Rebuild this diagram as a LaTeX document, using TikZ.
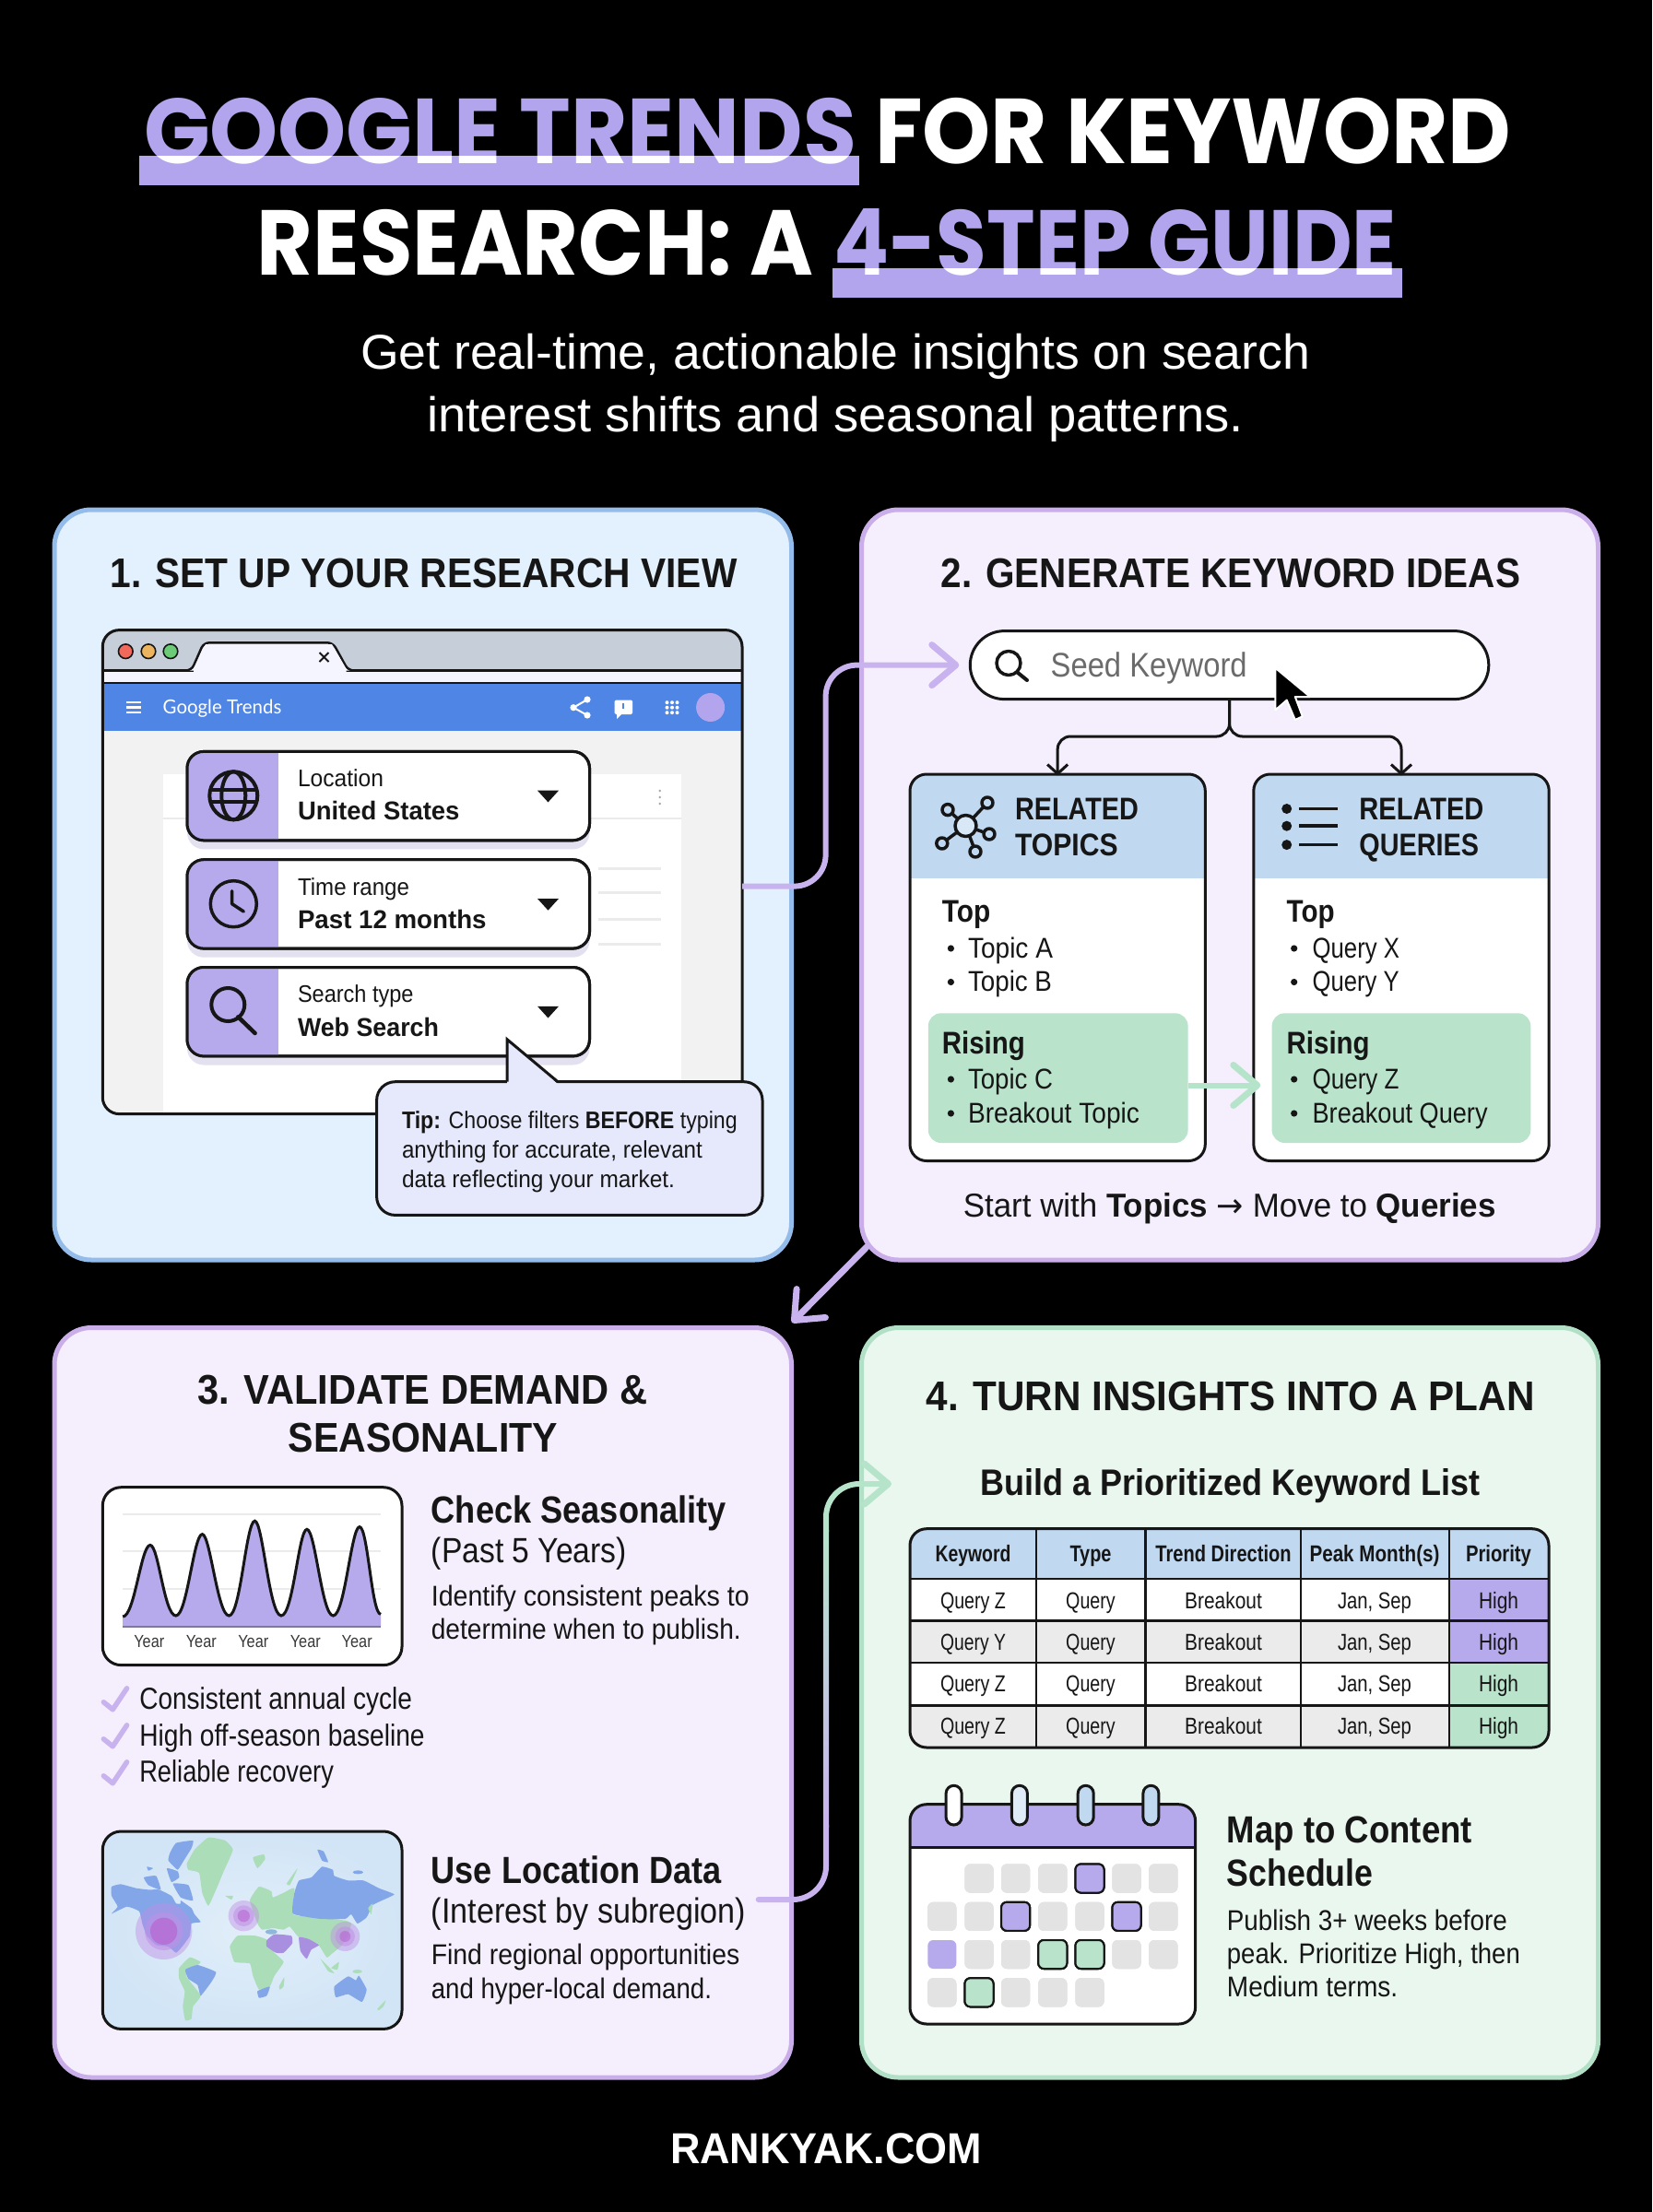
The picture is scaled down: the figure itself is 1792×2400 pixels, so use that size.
\documentclass[tikz,border=0pt]{standalone}
\usepackage{fontspec}
\setmainfont{Liberation Sans}
\newfontfamily\titlef{Poppins}
\newfontfamily\gtf{Lato}
\newfontfamily\arrf{DejaVu Sans}
\usetikzlibrary{arrows.meta}
\definecolor{ink}{HTML}{161616}
\definecolor{hl}{HTML}{B2A5EE}
\definecolor{pviolet}{HTML}{B6A9EC}
\definecolor{flowp}{HTML}{C9B3EE}
\definecolor{flowg}{HTML}{B6E4CA}
\definecolor{p1f}{HTML}{E3F0FD}\definecolor{p1s}{HTML}{94BCEA}
\definecolor{p2f}{HTML}{F5EEFC}\definecolor{p2s}{HTML}{C9AEEA}
\definecolor{p4f}{HTML}{EAF7EF}\definecolor{p4s}{HTML}{B2E0C6}
\definecolor{barblue}{HTML}{4F86E6}
\definecolor{chrome}{HTML}{C6CFD9}
\definecolor{hdrblue}{HTML}{C0D9F1}
\definecolor{risegreen}{HTML}{B9E4CB}
\definecolor{tipfill}{HTML}{E6E9FB}
\definecolor{cellgray}{HTML}{E3E3E3}
\definecolor{rowgray}{HTML}{EBEBEB}
\definecolor{mapbg}{HTML}{D2E5F6}
\definecolor{mapblue}{HTML}{82A6E8}
\definecolor{mapgreen}{HTML}{ABDDB8}
\definecolor{mappurple}{HTML}{A88FE0}
\definecolor{spota}{HTML}{C08FE6}
\definecolor{spotb}{HTML}{B868D2}
\definecolor{lred}{HTML}{F0695A}
\definecolor{lyel}{HTML}{EDB45F}
\definecolor{lgrn}{HTML}{6CCB77}
\newcommand\fs[1]{\fontsize{#1}{#1}\selectfont}
\newcommand\tw[2]{\resizebox{#1pt}{\height}{#2}}
\newcommand\bx[6]{\node[#2,minimum width={(#5)-(#3)},minimum height={(#6)-(#4)}] (#1) at ({((#3)+(#5))/2},{((#4)+(#6))/2}) {};}
\tikzset{
 tl/.style={anchor=base west,inner sep=0pt,outer sep=0pt,text=ink},
 tc/.style={anchor=base,inner sep=0pt,outer sep=0pt,text=ink},
 panel/.style={draw,rounded corners=40pt,line width=5pt,inner sep=0pt,outer sep=0pt},
 card/.style={draw=ink,fill=white,rounded corners=18pt,line width=3pt,inner sep=0pt,outer sep=0pt},
 outline/.style={draw=ink,rounded corners=18pt,line width=3pt,inner sep=0pt,outer sep=0pt},
 rise/.style={fill=risegreen,rounded corners=14pt,inner sep=0pt,outer sep=0pt},
 flowline/.style={line width=6pt,line cap=round,color=flowp},
 barb/.style={-{Straight Barb[length=26pt,width=44pt,line width=7pt,round]}},
 icon/.style={draw=ink,line width=3.5pt,line cap=round,line join=round},
 calcell/.style={fill=cellgray,rounded corners=6pt,inner sep=0pt,outer sep=0pt,minimum size=31pt},
 calp/.style={calcell,fill=pviolet,draw=ink,line width=2pt},
 calg/.style={calcell,fill=risegreen,draw=ink,line width=2pt},
 ringbox/.style={draw=ink,line width=3pt,rounded corners=8.5pt,inner sep=0pt,outer sep=0pt},
 check/.style={draw=flowp,line width=5.5pt,line cap=round,line join=round},
 land/.style={smooth cycle,tension=.25}
}
\begin{document}
\begin{tikzpicture}[x=1pt,y=-1pt]
\useasboundingbox (0,0) rectangle (1792,2400);
\fill[black] (0,0) rectangle (1792,2400);

% Title
\fill[hl] (151,169) rectangle (932,201);
\fill[hl] (903,291) rectangle (1521,323);
\node[tl,text=white,font=\titlef\fs{100}\bfseries] (t1) at (156,177.7) {\tw{1483}{GOOGLE TRENDS FOR KEYWORD}};
\node[tl,text=white,font=\titlef\fs{100}\bfseries] (t2a) at (278.6,298.7) {\tw{604}{RESEARCH: A}};
\node[tl,text=white,font=\titlef\fs{100}\bfseries] (t2b) at (904,298.7) {\tw{611}{4-STEP GUIDE}};
\begin{scope}[blend mode=multiply]
\fill[hl] (140,90) rectangle (936,169);
\fill[hl] (892,212) rectangle (1530,291);
\end{scope}
\node[tl,text=white,font=\fs{53}] (s1) at (391,400) {\tw{1030}{Get real-time, actionable insights on search}};
\node[tl,text=white,font=\fs{53}] (s2) at (463,468) {\tw{886}{interest shifts and seasonal patterns.}};

% Panels
\bx{p1}{panel,draw=p1s,fill=p1f}{59}{553}{858.5}{1367}
\bx{p2}{panel,draw=p2s,fill=p2f}{934.5}{553}{1733.5}{1367}
\bx{p3}{panel,draw=p2s,fill=p2f}{59}{1440.5}{858.5}{2254}
\bx{p4}{panel,draw=p4s,fill=p4f}{934.5}{1440.5}{1733.5}{2254}

% ---------- Panel 1
\node[tl,font=\fs{45}\bfseries] (h1) at (119.5,637.5) {\tw{680}{1. SET UP YOUR RESEARCH VIEW}};
\begin{scope}
\clip[rounded corners=18pt] (111.3,683.6) rectangle (805,1208.6);
\fill[white!95!black] (111.3,683.6) rectangle (805,1208.6);
\fill[chrome] (111.3,683.6) rectangle (805,727.5);
\fill[white!96!blue] (111.3,727.5) rectangle (805,741);
\fill[barblue] (111.3,741) rectangle (805,793);
\fill[white] (177,840) rectangle (739,1208.6);
\draw[rowgray,line width=2pt] (177,888) -- (739,888);
\foreach \yy in {942,968.6,997,1024} \draw[rowgray,line width=3pt] (649,\yy) -- (717.4,\yy);
\draw[ink,line width=2.5pt] (111.3,727.5) -- (805,727.5);
\draw[ink,line width=2.5pt] (111.3,741) -- (805,741);
\end{scope}
\fill[gray!70] (715.7,858) circle (1.4) (715.7,865) circle (1.4) (715.7,872) circle (1.4);
\draw[ink,line width=2.5pt,fill=white!96!blue,rounded corners=6pt,line join=round] (204,727.5) -- (207.7,727.5) -- (221,697.3) -- (361,697.3) -- (377.7,727.5) -- (381,727.5);
\fill[white!96!blue] (210,725.5) -- (223,699) -- (360,699) -- (375.5,725.5) -- (375.5,729) -- (210,729) -- cycle;
\draw[ink,line width=2pt] (346.5,708) -- (356.5,718) (356.5,708) -- (346.5,718);
\filldraw[draw=ink,line width=1.6pt,fill=lred] (136.3,706.7) circle (7.8);
\filldraw[draw=ink,line width=1.6pt,fill=lyel] (161,706.7) circle (7.8);
\filldraw[draw=ink,line width=1.6pt,fill=lgrn] (185,706.7) circle (7.8);
\bx{browser}{outline}{111.3}{683.6}{805}{1208.6}
\draw[white,line width=2.2pt] (137,762) -- (152.5,762) (137,767.5) -- (152.5,767.5) (137,773) -- (152.5,773);
\node[tl,text=white,font=\gtf\fs{21}] (gt) at (176.7,774.6) {\tw{128.6}{Google Trends}};
\draw[white,line width=2pt] (637,759) -- (622,767.7) -- (637,776);
\fill[white] (637,759) circle (3.6) (622,767.7) circle (3.6) (637,776) circle (3.6);
\fill[white,rounded corners=1.5pt] (666.5,759.5) rectangle (686,775);
\fill[white] (669,773) -- (669,780) -- (676,773) -- cycle;
\draw[barblue,line width=1.6pt] (676.2,762.5) -- (676.2,769);
\foreach \gi in {-5.5,0,5.5} \foreach \gj in {-5.5,0,5.5} \fill[white] (729+\gi,767.7+\gj) circle (2);
\fill[hl] (770.6,767.5) circle (15.5);
% filter boxes
\foreach \by/\nm in {815.4/a,932.7/b,1049.5/c}{
 \fill[black!20!hl!25!white,rounded corners=18pt] (203,\by+9) rectangle (639.5,\by+106);
 \bx{fb\nm}{card}{203}{\by}{639.5}{\by+96.4}
 \begin{scope}
 \clip[rounded corners=18pt] (203,\by) rectangle (639.5,\by+96.4);
 \fill[pviolet] (203,\by) rectangle (301.6,\by+96.4);
 \end{scope}
 \bx{fo\nm}{outline,fill=none}{203}{\by}{639.5}{\by+96.4}
 \fill[ink] (583,\by+42.3) -- (606,\by+42.3) -- (594.5,\by+55) -- cycle;
}
\node[tl,font=\fs{26}] (f1a) at (323,853.4) {\tw{93}{Location}};
\node[tl,font=\fs{28}\bfseries] (f1b) at (323,889) {\tw{175.5}{United States}};
\node[tl,font=\fs{26}] (f2a) at (323,971) {\tw{121}{Time range}};
\node[tl,font=\fs{28}\bfseries] (f2b) at (323,1007) {\tw{204.6}{Past 12 months}};
\node[tl,font=\fs{26}] (f3a) at (323,1087.5) {\tw{125.6}{Search type}};
\node[tl,font=\fs{28}\bfseries] (f3b) at (323,1124) {\tw{153}{Web Search}};
% icons
\draw[icon,line width=4pt] (253.3,863.3) circle (26);
\draw[icon,line width=4pt] (253.3,863.3) ellipse (13 and 26);
\draw[icon,line width=4pt] (229,856.5) -- (277.6,856.5) (229,870) -- (277.6,870);
\draw[icon] (253.3,980.7) circle (25);
\draw[icon] (251.7,966.7) -- (251.7,980.7) -- (264.3,989);
\draw[icon,line width=4pt] (247.3,1090) circle (18);
\draw[icon,line width=4.5pt] (258.3,1103.3) -- (276.6,1121);
% tip
\bx{tipbox}{card,fill=tipfill,rounded corners=20pt}{408.6}{1173.7}{827}{1318.4}
\fill[tipfill] (550,1127.7) -- (550,1176) -- (605,1176) -- cycle;
\draw[ink,line width=3pt,line join=miter] (550,1173.7) -- (550,1127.7) -- (605,1173.7);
\node[tl,font=\fs{26}] (tip1) at (436,1224) {\tw{363.7}{\textbf{Tip:} Choose filters \textbf{BEFORE} typing}};
\node[tl,font=\fs{26}] (tip2) at (436,1256) {\tw{326}{anything for accurate, relevant}};
\node[tl,font=\fs{26}] (tip3) at (436,1288) {\tw{296}{data reflecting your market.}};

% ---------- Panel 2
\node[tl,font=\fs{45}\bfseries] (h2) at (1020.7,637.5) {\tw{628.5}{2. GENERATE KEYWORD IDEAS}};
\bx{pill}{card,rounded corners=37pt}{1052.3}{684.6}{1614.8}{758.6}
\draw[icon] (1094,719.5) circle (13);
\draw[icon,line width=4pt] (1103.5,729.5) -- (1114,738);
\node[tl,text=black!58,font=\fs{37}] (seed) at (1139.7,734) {\tw{213}{Seed Keyword}};
% cards
\foreach \nm/\xa/\xb in {L/987/1307.3,R/1359.8/1680.2}{
 \begin{scope}
 \clip[rounded corners=18pt] (\xa,840) rectangle (\xb,1259.5);
 \fill[white] (\xa,840) rectangle (\xb,1259.5);
 \fill[hdrblue] (\xa,840) rectangle (\xb,952.5);
 \end{scope}
 \bx{card\nm}{outline}{\xa}{840}{\xb}{1259.5}
}
\bx{riseL}{rise}{1006.8}{1099.3}{1288.6}{1240}
\bx{riseR}{rise}{1379.6}{1099.3}{1660.3}{1240}
% network icon
\draw[icon] (1047.5,896) -- (1071,871) (1047.5,896) -- (1028,878.6) (1047.5,896) -- (1073,905) (1047.5,896) -- (1058,924) (1047.5,896) -- (1021.8,915);
\filldraw[icon,fill=hdrblue!60!white] (1047.5,896) circle (11.5);
\foreach \nx/\ny in {1071/871,1028/878.6,1073/905,1058/924,1021.8/915} \filldraw[icon,fill=hdrblue] (\nx,\ny) circle (6);
% list icon
\fill[ink] (1395.7,877.5) circle (5.5) (1395.7,896.2) circle (5.5) (1395.7,916.6) circle (5.5);
\draw[ink,line width=3.5pt] (1409,877.5) -- (1451.4,877.5) (1409,896.2) -- (1451.4,896.2) (1409,916.6) -- (1451.4,916.6);
\node[tl,font=\fs{34}\bfseries] (rt1) at (1101,889) {\tw{134}{RELATED}};
\node[tl,font=\fs{34}\bfseries] (rt2) at (1101,928.3) {\tw{111.6}{TOPICS}};
\node[tl,font=\fs{34}\bfseries] (rq1) at (1474.4,889) {\tw{135}{RELATED}};
\node[tl,font=\fs{34}\bfseries] (rq2) at (1474.4,928.3) {\tw{129.6}{QUERIES}};
\node[tl,font=\fs{34}\bfseries] (tpL) at (1021.8,1000.7) {\tw{52.5}{Top}};
\node[tl,font=\fs{34}\bfseries] (tpR) at (1395.7,1000.7) {\tw{52}{Top}};
\node[tl,font=\fs{34}\bfseries] (riL) at (1021.8,1143.7) {\tw{90}{Rising}};
\node[tl,font=\fs{34}\bfseries] (riR) at (1395.7,1143.7) {\tw{90}{Rising}};
\foreach \by in {1029,1065.5,1171,1208} \fill[ink] (1031.4,\by) circle (3.6) (1403.7,\by) circle (3.6);
\node[tl,font=\fs{31}] (ta) at (1050,1039.3) {\tw{92}{Topic A}};
\node[tl,font=\fs{31}] (tb) at (1050,1075.7) {\tw{91}{Topic B}};
\node[tl,font=\fs{31}] (tc) at (1050,1181) {\tw{92}{Topic C}};
\node[tl,font=\fs{31}] (td) at (1050,1218.7) {\tw{186}{Breakout Topic}};
\node[tl,font=\fs{31}] (qa) at (1423.6,1039.3) {\tw{94.5}{Query X}};
\node[tl,font=\fs{31}] (qb) at (1423.6,1075.7) {\tw{94}{Query Y}};
\node[tl,font=\fs{31}] (qc) at (1423.6,1181) {\tw{94}{Query Z}};
\node[tl,font=\fs{31}] (qd) at (1423.6,1218.7) {\tw{190}{Breakout Query}};
\node[tl,font=\fs{36}] (foot2) at (1044.8,1320.5) {\tw{578}{Start with \textbf{Topics} {\arrf →} Move to \textbf{Queries}}};
% branch
\draw[ink,line width=3pt,rounded corners=14pt,-{Straight Barb[length=10pt,width=22pt,line width=3pt]}] (pill.south) -- (1333.6,799) -| ([yshift=-1.5pt]cardL.north);
\draw[ink,line width=3pt,rounded corners=14pt,-{Straight Barb[length=10pt,width=22pt,line width=3pt]}] (pill.south) -- (1333.6,799) -| ([yshift=-1.5pt]cardR.north);
% cursor
\filldraw[black,draw=white,line width=2pt,line join=round] (1383.4,724.8) -- (1383.4,770.4) -- (1395.7,759.6) -- (1404.8,781) -- (1412.8,777.3) -- (1404.8,756) -- (1421,756) -- cycle;

% ---------- Panel 3
\node[tl,font=\fs{45}\bfseries] (h3a) at (214.4,1523.7) {\tw{488}{3. VALIDATE DEMAND \&}};
\node[tl,font=\fs{45}\bfseries] (h3b) at (312.6,1575.7) {\tw{292.4}{SEASONALITY}};
\bx{chart}{card,rounded corners=20pt}{111.3}{1613.7}{436}{1806.6}
\draw[rowgray,line width=2pt] (133,1642.7) -- (413,1642.7) (133,1682.9) -- (413,1682.9) (133,1723.6) -- (413,1723.6);
\def\crv{(133.2,1754) .. controls (146,1754) and (153,1676.4) .. (162.9,1676.4) .. controls (172,1676.4) and (178,1753) .. (190.8,1753) .. controls (203,1753) and (210,1664.6) .. (219.4,1664.6) .. controls (228,1664.6) and (236,1753) .. (248.4,1753) .. controls (261,1753) and (267,1650.2) .. (276.4,1650.2) .. controls (285,1650.2) and (292,1753) .. (305,1753) .. controls (318,1753) and (324,1659.3) .. (332.9,1659.3) .. controls (342,1659.3) and (349,1753) .. (361.4,1753) .. controls (374,1753) and (381,1656.6) .. (390,1656.6) .. controls (399,1656.6) and (403,1751.4) .. (413,1751.4)}
\fill[pviolet] \crv -- (413,1764.8) -- (133.2,1764.8) -- cycle;
\draw[ink,line width=3pt] \crv;
\draw[pviolet!70!black,line width=2pt] (133,1764.8) -- (413,1764.8);
\foreach \n/\cx in {1/161.8,2/218.3,3/274.8,4/331.3,5/387.2}
 \node[tc,text=ink!85,font=\fs{19}] (yr\n) at (\cx,1787.9) {\tw{33}{Year}};
\node[tl,font=\fs{41}\bfseries] (cs1) at (467.8,1652.3) {\tw{320}{Check Seasonality}};
\node[tl,font=\fs{38}] (cs2) at (467.8,1695.2) {\tw{212}{(Past 5 Years)}};
\node[tl,font=\fs{31}] (cs3) at (467.8,1742.3) {\tw{345}{Identify consistent peaks to}};
\node[tl,font=\fs{31}] (cs4) at (467.8,1778) {\tw{336}{determine when to publish.}};
\foreach \dy in {0,40,80}
 \draw[check] (112.4,1846.8+\dy) -- (122.3,1854.8+\dy) -- (137.6,1831.8+\dy);
\node[tl,font=\fs{33}] (ck1) at (151.3,1854.3) {\tw{295.7}{Consistent annual cycle}};
\node[tl,font=\fs{33}] (ck2) at (151.3,1894) {\tw{309.4}{High off-season baseline}};
\node[tl,font=\fs{33}] (ck3) at (151.3,1933.6) {\tw{210.7}{Reliable recovery}};
% map
\begin{scope}
\clip[rounded corners=20pt] (111.3,1987) rectangle (436,2201.4);
\shade[inner color=mapbg!65!white,outer color=mapbg] (111.3,1987) rectangle (436,2201.4);
\begin{scope}[shift={(111,1987)},x=.3333pt,y=-.3333pt]
\fill[mapblue] plot[land] coordinates {(30,180)(60,172)(110,185)(150,190)(185,190)(225,210)(240,235)(255,235)(255,225)(290,250)(300,270)(320,295)(290,300)(285,340)(260,375)(240,395)(215,375)(175,370)(145,340)(130,300)(120,260)(80,245)(30,268)(50,245)(30,210)};
\fill[mapblue] plot[land] coordinates {(220,70)(240,38)(295,30)(290,55)(265,95)(245,125)(215,95)};
\fill[mapblue] plot[land] coordinates {(135,150)(175,145)(190,190)(150,175)};
\fill[mapblue] plot[land] coordinates {(210,120)(245,130)(250,150)(225,165)};
\fill[mapblue] plot[land] coordinates {(230,170)(280,175)(295,225)(255,215)};
\fill[mapblue] plot[land] coordinates {(145,115)(165,120)(150,128)};
\fill[mapgreen] plot[land] coordinates {(275,105)(300,60)(345,20)(400,30)(425,60)(395,130)(370,190)(345,242)(325,200)(315,135)(280,125)};
\fill[mapgreen] plot[land] coordinates {(490,85)(525,75)(530,90)(505,120)};
\fill[mapgreen] plot[land] coordinates {(400,210)(425,210)(420,222)};
\fill[mapgreen] plot[land] coordinates {(600,170)(635,120)(625,145)(610,175)};
\fill[mapblue] plot[land] coordinates {(700,60)(720,65)(735,100)(715,95)};
\fill[mapgreen] plot[land] coordinates {(480,225)(510,180)(550,195)(555,215)(590,200)(625,185)(620,270)(700,280)(790,290)(810,300)(800,340)(775,375)(745,400)(730,410)(700,365)(640,345)(610,310)(590,320)(555,315)(520,320)(505,300)};
\fill[mapblue] plot[land] coordinates {(625,200)(640,160)(680,150)(715,115)(750,125)(755,145)(800,160)(850,160)(900,185)(950,205)(910,225)(880,240)(860,280)(830,300)(810,270)(790,285)(710,285)(620,268)};
\fill[mapgreen] plot[land] coordinates {(415,375)(440,340)(500,340)(540,355)(560,395)(590,425)(560,470)(545,505)(510,515)(490,470)(480,430)(430,425)};
\fill[mapblue] plot[land] coordinates {(505,520)(545,505)(535,535)(510,542)};
\fill[mapgreen] plot[land] coordinates {(575,505)(592,475)(590,505)(578,515)};
\fill[mappurple] plot[land] coordinates {(535,355)(560,335)(615,340)(618,365)(590,395)(565,395)(535,375)};
\fill[mappurple] plot[land] coordinates {(640,345)(670,350)(705,370)(680,385)(665,415)(645,390)};
\fill[mapblue!70!mapgreen] (550,327) ellipse (20 and 8);
\fill[mapblue] plot[land] coordinates {(755,505)(800,472)(825,485)(835,470)(860,515)(845,555)(800,530)(760,540)};
\fill[mapgreen] plot[land] coordinates {(710,415)(740,445)(755,462)(735,455)};
\fill[mapgreen] plot[land] coordinates {(745,445)(770,425)(765,450)};
\fill[mapgreen] (830,456) ellipse (16 and 6);
\fill[mapgreen] plot[land] coordinates {(895,578)(922,550)(915,570)(900,582)};
\fill[mapblue] (832,133) ellipse (17 and 6);
\fill[mapgreen] plot[land] coordinates {(865,250)(880,235)(875,270)};
\fill[mapgreen] plot[land] coordinates {(250,445)(285,410)(320,425)(310,435)(275,450)(275,475)(320,535)(295,570)(290,610)(270,615)(262,570)(268,520)(250,480)};
\fill[mapblue] plot[land] coordinates {(270,450)(310,435)(370,458)(355,490)(320,535)(310,500)(280,480)};
\fill[spota,opacity=.45] (200,325) circle (92);
\fill[spota,opacity=.55] (200,325) circle (62);
\fill[spotb,opacity=.75] (200,325) circle (44);
\fill[spota,opacity=.45] (460,275) circle (50);
\fill[spota,opacity=.55] (460,275) circle (34);
\fill[spotb,opacity=.6] (460,275) circle (20);
\fill[spota,opacity=.45] (790,342) circle (48);
\fill[spota,opacity=.55] (790,342) circle (32);
\fill[spotb,opacity=.6] (790,342) circle (18);
\end{scope}
\end{scope}
\bx{map}{outline,rounded corners=20pt}{111.3}{1987}{436}{2201.4}
\node[tl,font=\fs{41}\bfseries] (ul1) at (467.8,2043.4) {\tw{315}{Use Location Data}};
\node[tl,font=\fs{38}] (ul2) at (467.8,2086) {\tw{341.5}{(Interest by subregion)}};
\node[tl,font=\fs{31}] (ul3) at (467.8,2131.8) {\tw{334.5}{Find regional opportunities}};
\node[tl,font=\fs{31}] (ul4) at (467.8,2168.2) {\tw{304.2}{and hyper-local demand.}};

% ---------- Panel 4
\node[tl,font=\fs{45}\bfseries] (h4) at (1004.6,1530.7) {\tw{660}{4. TURN INSIGHTS INTO A PLAN}};
\node[tl,font=\fs{40}\bfseries] (bp) at (1063.6,1622.9) {\tw{542}{Build a Prioritized Keyword List}};
\begin{scope}
\clip[rounded corners=18pt] (987,1658.7) rectangle (1680,1896);
\fill[white] (987,1658.7) rectangle (1680,1896);
\fill[hdrblue] (987,1658.7) rectangle (1680,1712.9);
\fill[rowgray] (987,1758.4) rectangle (1572,1804);
\fill[rowgray] (987,1850.5) rectangle (1572,1896);
\fill[pviolet] (1572,1712.9) rectangle (1680,1804);
\fill[risegreen] (1572,1804) rectangle (1680,1896);
\foreach \cx in {1124,1242.5,1411.2,1572} \draw[ink,line width=2.5pt] (\cx,1658.7) -- (\cx,1896);
\foreach \ry in {1712.9,1758.4,1804,1850.5} \draw[ink,line width=2.5pt] (987,\ry) -- (1680,\ry);
\end{scope}
\bx{table}{outline}{987}{1658.7}{1680}{1896}
\node[tc,font=\fs{25}\bfseries] (th1) at (1055.5,1694) {\tw{82}{Keyword}};
\node[tc,font=\fs{25}\bfseries] (th2) at (1183,1694) {\tw{45}{Type}};
\node[tc,font=\fs{25}\bfseries] (th3) at (1327,1694) {\tw{147.3}{Trend Direction}};
\node[tc,font=\fs{25}\bfseries] (th4) at (1491,1694) {\tw{141}{Peak Month(s)}};
\node[tc,font=\fs{25}\bfseries] (th5) at (1625.5,1694) {\tw{71}{Priority}};
\foreach \n/\ry/\kw in {1/1745/Query Z,2/1790/Query Y,3/1835.5/Query Z,4/1881.6/Query Z}{
 \node[tc,font=\fs{25}] (ka\n) at (1055.5,\ry) {\tw{71}{\kw}};
 \node[tc,font=\fs{25}] (kb\n) at (1183,\ry) {\tw{53.6}{Query}};
 \node[tc,font=\fs{25}] (kc\n) at (1327,\ry) {\tw{83.6}{Breakout}};
 \node[tc,font=\fs{25}] (kd\n) at (1491,\ry) {\tw{80}{Jan, Sep}};
 \node[tc,font=\fs{25}] (ke\n) at (1625.5,\ry) {\tw{43}{High}};
}
% calendar
\begin{scope}
\clip[rounded corners=18pt] (987,1957.7) rectangle (1296.6,2196);
\fill[white] (987,1957.7) rectangle (1296.6,2196);
\fill[pviolet] (987,1957.7) rectangle (1296.6,2004.3);
\draw[ink,line width=2.5pt] (987,2004.3) -- (1296.6,2004.3);
\end{scope}
\bx{cal}{outline}{987}{1957.7}{1296.6}{2196}
\foreach \n/\rx/\rc in {1/1034.6/white,2/1105.9/hdrblue!50!white,3/1177.7/hdrblue,4/1248.4/hdrblue}
 \bx{ring\n}{ringbox,fill=\rc}{\rx-8.5}{1937.3}{\rx+8.5}{1980}
\foreach \cx/\cy/\st in {
 1062/2038/calcell,1101.6/2038/calcell,1141.8/2038/calcell,1182/2038/calp,1222/2038/calcell,1261.8/2038/calcell,
 1021.8/2079.3/calcell,1062/2079.3/calcell,1101.6/2079.3/calp,1141.8/2079.3/calcell,1182/2079.3/calcell,1222/2079.3/calp,1261.8/2079.3/calcell,
 1062/2120.5/calcell,1101.6/2120.5/calcell,1141.8/2120.5/calg,1182/2120.5/calg,1222/2120.5/calcell,1261.8/2120.5/calcell,
 1021.8/2161.8/calcell,1062/2161.8/calg,1101.6/2161.8/calcell,1141.8/2161.8/calcell,1182/2161.8/calcell}
 \path (\cx,\cy) node[\st] {};
\node[calcell,fill=pviolet] (cal3) at (1021.8,2120.5) {};
\node[tl,font=\fs{41}\bfseries] (mc1) at (1330.9,1999.5) {\tw{266}{Map to Content}};
\node[tl,font=\fs{41}\bfseries] (mc2) at (1330.9,2046) {\tw{158.6}{Schedule}};
\node[tl,font=\fs{31}] (mc3) at (1330.9,2094.3) {\tw{304}{Publish 3+ weeks before}};
\node[tl,font=\fs{31}] (mc4) at (1330.9,2130.7) {\tw{318}{peak. Prioritize High, then}};
\node[tl,font=\fs{31}] (mc5) at (1330.9,2166.6) {\tw{185.3}{Medium terms.}};

% Footer
\node[tl,text=white,font=\fs{47}\bfseries] (foot) at (727,2347.7) {\tw{338}{RANKYAK.COM}};

% ---------- Connectors
\coordinate (a1s) at (805,961.6);
\draw[flowline,barb,rounded corners=34pt,line cap=butt] (a1s) -| (895.6,721.6) -- ([xshift=-12pt]pill.west);
\coordinate (g1) at (1288.6,1177.5);
\coordinate (g2) at (1367.3,1177.5);
\draw[flowline,barb,flowg,line cap=butt] (g1) -- (g2);
\coordinate (a2s) at (940,1353);
\coordinate (a2e) at (859,1435);
\draw[flowline,barb,line width=7pt] (a2s) -- (a2e);
\coordinate (a3s) at (822.7,2061);
\coordinate (a3e) at (967,1610);
\draw[flowline,rounded corners=36pt] (a3s) -- (896,2061) -- (896,1980);
\shade[bottom color=flowp,top color=flowg] (893,1982) rectangle (899,1660);
\draw[flowline,flowg,barb,rounded corners=36pt,line cap=butt] (896,1662) -- (896,1610) -- (a3e);
\end{tikzpicture}
\end{document}
